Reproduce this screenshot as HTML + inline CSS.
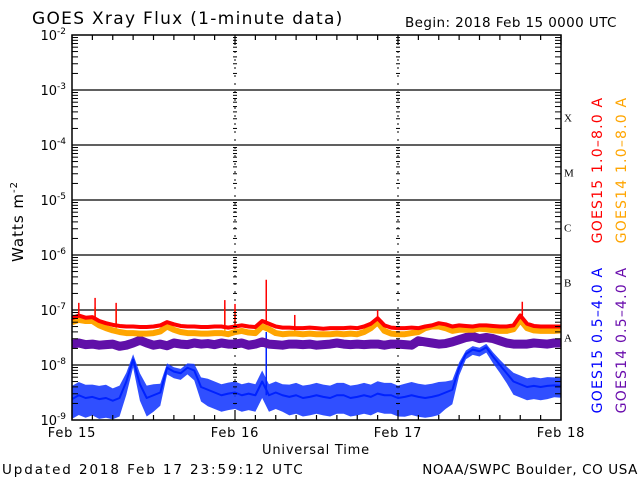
<!DOCTYPE html>
<html><head><meta charset="utf-8"><style>
body{margin:0;background:#fff;}
svg{display:block;font-family:"DejaVu Sans","Liberation Sans",sans-serif;}
</style></head><body>
<svg id="chart" width="640" height="480" viewBox="0 0 640 480" xmlns="http://www.w3.org/2000/svg">
<rect width="640" height="480" fill="#fff"/>
<text x="32" y="24" font-size="17" letter-spacing="1.3">GOES Xray Flux (1-minute data)</text>
<text x="405" y="27" font-size="13.5" letter-spacing="0.4">Begin:  2018 Feb 15 0000 UTC</text>
<g id="grid"></g>
<g id="series"></g>
<g id="axes"></g>
<text transform="translate(23,262) rotate(-90)" font-size="15" letter-spacing="1">Watts m<tspan dy="-6" font-size="10">-2</tspan></text>
<text x="316" y="454" font-size="13" text-anchor="middle" letter-spacing="0.8">Universal Time</text>
<text x="2" y="474" font-size="13.5" letter-spacing="1.9">Updated 2018 Feb 17 23:59:12 UTC</text>
<text x="638" y="474" font-size="13.5" text-anchor="end" letter-spacing="0.6">NOAA/SWPC Boulder, CO USA</text>
<text transform="translate(602,170) rotate(-90)" font-size="14" fill="#ff0000" text-anchor="middle" letter-spacing="1.2">GOES15 1.0–8.0 A</text>
<text transform="translate(626,170) rotate(-90)" font-size="14" fill="#ffa500" text-anchor="middle" letter-spacing="1.2">GOES14 1.0–8.0 A</text>
<text transform="translate(602,340) rotate(-90)" font-size="14" fill="#0000ff" text-anchor="middle" letter-spacing="1.2">GOES15 0.5–4.0 A</text>
<text transform="translate(626,340) rotate(-90)" font-size="14" fill="#6a0dad" text-anchor="middle" letter-spacing="1.2">GOES14 0.5–4.0 A</text>
</svg>
<script>
const dayLabels=["Feb 15","Feb 16","Feb 17","Feb 18"];
const decades=[-2,-3,-4,-5,-6,-7,-8,-9];
const classLabels=["X","M","C","B","A"];
const classLevels=[-3.5,-4.5,-5.5,-6.5,-7.5];
const red=[-7.15,-7.10,-7.14,-7.13,-7.20,-7.24,-7.27,-7.29,-7.30,-7.30,-7.31,-7.31,-7.30,-7.28,-7.22,-7.26,-7.29,-7.30,-7.30,-7.31,-7.31,-7.30,-7.30,-7.32,-7.30,-7.28,-7.30,-7.31,-7.20,-7.25,-7.30,-7.32,-7.32,-7.33,-7.33,-7.32,-7.33,-7.34,-7.33,-7.33,-7.33,-7.32,-7.33,-7.30,-7.25,-7.15,-7.28,-7.32,-7.33,-7.33,-7.32,-7.33,-7.30,-7.28,-7.24,-7.26,-7.30,-7.28,-7.29,-7.30,-7.28,-7.28,-7.29,-7.30,-7.30,-7.28,-7.10,-7.25,-7.29,-7.30,-7.30,-7.30,-7.30];
const orange=[-7.22,-7.18,-7.20,-7.20,-7.28,-7.33,-7.37,-7.40,-7.42,-7.42,-7.43,-7.43,-7.42,-7.39,-7.30,-7.36,-7.40,-7.42,-7.42,-7.43,-7.43,-7.42,-7.42,-7.44,-7.40,-7.38,-7.41,-7.42,-7.30,-7.35,-7.42,-7.44,-7.43,-7.43,-7.44,-7.43,-7.44,-7.44,-7.44,-7.43,-7.44,-7.43,-7.44,-7.40,-7.33,-7.22,-7.38,-7.43,-7.44,-7.44,-7.42,-7.40,-7.33,-7.30,-7.30,-7.33,-7.38,-7.36,-7.36,-7.36,-7.34,-7.35,-7.37,-7.38,-7.38,-7.35,-7.18,-7.33,-7.37,-7.38,-7.38,-7.38,-7.37];
const purple=[-7.62,-7.60,-7.63,-7.62,-7.64,-7.63,-7.62,-7.66,-7.64,-7.60,-7.55,-7.60,-7.64,-7.62,-7.65,-7.60,-7.62,-7.63,-7.60,-7.62,-7.61,-7.63,-7.60,-7.62,-7.62,-7.60,-7.64,-7.62,-7.58,-7.62,-7.63,-7.64,-7.62,-7.62,-7.63,-7.62,-7.64,-7.63,-7.62,-7.60,-7.62,-7.63,-7.62,-7.63,-7.62,-7.62,-7.64,-7.62,-7.62,-7.63,-7.64,-7.56,-7.58,-7.60,-7.62,-7.61,-7.58,-7.54,-7.50,-7.48,-7.52,-7.50,-7.52,-7.56,-7.60,-7.62,-7.62,-7.62,-7.60,-7.61,-7.62,-7.60,-7.60];
const blueMid=[-8.62,-8.55,-8.60,-8.58,-8.62,-8.60,-8.65,-8.60,-8.30,-7.90,-8.35,-8.60,-8.55,-8.50,-8.05,-8.12,-8.15,-8.05,-8.10,-8.40,-8.45,-8.50,-8.55,-8.52,-8.50,-8.55,-8.52,-8.55,-8.30,-8.55,-8.50,-8.55,-8.58,-8.55,-8.60,-8.58,-8.55,-8.58,-8.60,-8.55,-8.55,-8.60,-8.58,-8.55,-8.58,-8.52,-8.55,-8.55,-8.60,-8.58,-8.55,-8.58,-8.60,-8.58,-8.55,-8.50,-8.45,-8.05,-7.80,-7.72,-7.75,-7.68,-7.85,-8.00,-8.15,-8.30,-8.35,-8.40,-8.38,-8.40,-8.38,-8.37,-8.38];
const blueSpread=[0.30,0.30,0.30,0.28,0.30,0.30,0.28,0.28,0.20,0.12,0.25,0.28,0.25,0.20,0.10,0.10,0.10,0.10,0.15,0.22,0.25,0.25,0.25,0.25,0.25,0.25,0.25,0.25,0.25,0.25,0.25,0.25,0.28,0.28,0.28,0.28,0.28,0.28,0.28,0.28,0.28,0.28,0.28,0.28,0.28,0.28,0.28,0.28,0.28,0.30,0.30,0.30,0.30,0.30,0.30,0.25,0.22,0.12,0.08,0.08,0.08,0.08,0.10,0.12,0.15,0.20,0.20,0.20,0.20,0.20,0.20,0.18,0.18];
const spikeHours=[1,3.4,6.5,22.5,24,28.6,32.8,45,66.3];
const redSpikes=[-6.87,-6.78,-6.87,-6.82,-6.89,-6.45,-7.09,-7.0,-6.85];
const orangeSpikes=[-7.0,-6.95,-7.0,-6.95,-7.0,-6.6,-7.2,-7.1,-7.0];
const blueSpikeHours=[28.6];
const blueSpikes=[-7.4];

const NS="http://www.w3.org/2000/svg";
const X0=72,X1=561,Y0=35,Y1=420,HOURS=72;
const xs=h=>X0+(X1-X0)*h/HOURS;
const ys=l=>Y0+(Y1-Y0)*(-2-l)/7;
function mk(tag,attrs,parent){const e=document.createElementNS(NS,tag);for(const k in attrs)e.setAttribute(k,attrs[k]);parent.appendChild(e);return e;}
const grid=document.getElementById('grid'),ser=document.getElementById('series'),ax=document.getElementById('axes');

decades.forEach((d,i)=>{
  if(i>0&&i<decades.length-1){const l=mk('line',{x1:X0,x2:X1,y1:ys(d),y2:ys(d),stroke:'#000','stroke-width':1.3},grid);
  
  }
  const t=mk('text',{x:X0-6,y:ys(d)+5,'font-size':13,'text-anchor':'end'},ax);
  
  
  t.textContent='10';
  const s=mk('tspan',{dy:-6,'font-size':9},t);s.textContent=String(d);
});
for(let d=-9;d<-2;d++){for(let m=2;m<=9;m++){const y=ys(d+Math.log10(m));
  [[X0,6],[X1,-6]].forEach(([x,len])=>{const l=mk('line',{x1:x,x2:x+len,y1:y,y2:y,stroke:'#000','stroke-width':1},ax);
  
  });
  [1,2].forEach(k=>{const x=xs(24*k);const l=mk('line',{x1:x-2,x2:x+2,y1:y,y2:y,stroke:'#000','stroke-width':1},ax);
  
  });
}}
[1,2].forEach(k=>{const x=xs(24*k);const l=mk('line',{x1:x,x2:x,y1:Y0,y2:Y1,stroke:'#000','stroke-width':1,'stroke-dasharray':'2,6'},grid);
  
  });
for(let h=0;h<=HOURS;h+=3){const x=xs(h);const len=(h%24===0)?10:5;
  [[Y0,len],[Y1,-len]].forEach(([y,l0])=>{const l=mk('line',{x1:x,x2:x,y1:y,y2:y+l0,stroke:'#000','stroke-width':1.2},ax);
  
  });}
dayLabels.forEach((d,i)=>{const t=mk('text',{x:xs(24*i),y:437,'font-size':13,'text-anchor':'middle','letter-spacing':0.8},ax);
  
  
  t.textContent=d;});
classLabels.forEach((c,i)=>{const t=mk('text',{x:X1+3,y:ys(classLevels[i])+4,'font-size':11,'font-family':'Liberation Serif, serif'},ax);
  
  
  t.textContent=c;});
const frame=mk('rect',{x:X0,y:Y0,width:X1-X0,height:Y1-Y0,fill:'none',stroke:'#000','stroke-width':1.5},ax);



const step=a=>HOURS/(a.length-1);
function line(arr,color,w,name){const st=step(arr);
  const p=mk('polyline',{points:arr.map((v,i)=>xs(i*st)+','+ys(v)).join(' '),fill:'none',stroke:color,'stroke-width':w,'stroke-linejoin':'round'},ser);
  
  }
function spikes(hrs,vals,base,color,name){const st=step(base);hrs.forEach((h,i)=>{const b=base[Math.round(h/st)];
  const l=mk('line',{x1:xs(h),x2:xs(h),y1:ys(b),y2:ys(vals[i]),stroke:color,'stroke-width':1.5},ser);
  
  });}

{const st=step(blueMid);const up=blueMid.map((v,i)=>xs(i*st)+','+ys(v+blueSpread[i]*0.8));
 const lo=blueMid.map((v,i)=>xs(i*st)+','+ys(Math.max(-9,v-blueSpread[i]*1.2))).reverse();
 const p=mk('polygon',{points:up.concat(lo).join(' '),fill:'#1a3cff','fill-opacity':0.9},ser);
 
 }
line(blueMid,'#0022ff',2,'goes15-short-line');
spikes(blueSpikeHours,blueSpikes,blueMid,'#0022ff','goes15-short-spike');
line(purple,'#6010a8',9,'goes14-short-line');
line(orange,'#ffa500',6,'goes14-long-line');
spikes(spikeHours,orangeSpikes,orange,'#ffa500','goes14-long-spike');
line(red,'#ff0000',4,'goes15-long-line');
spikes(spikeHours,redSpikes,red,'#ff0000','goes15-long-spike');
</script>
</body></html>
